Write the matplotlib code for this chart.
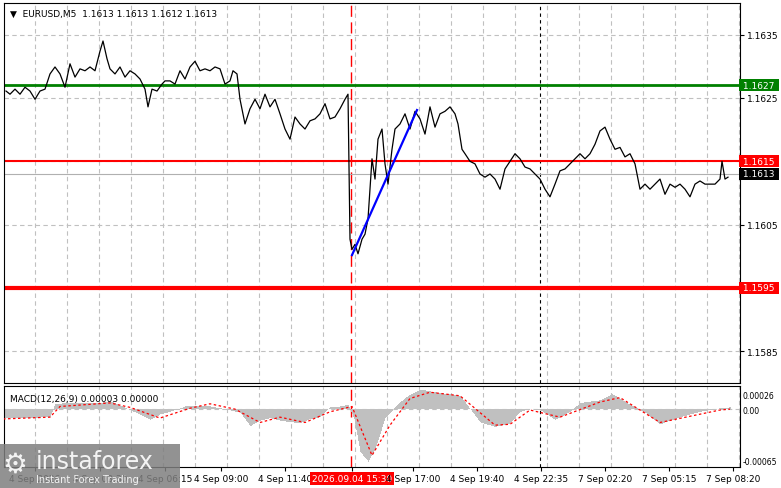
import matplotlib
matplotlib.use("Agg")
import matplotlib.pyplot as plt
from matplotlib.patches import Rectangle

W, H = 781, 489
bar_x = [6,10,15,20,25,30,35,40,45,50,55,60,65,70,75,80,85,90,95,100,103,107,110,115,120,125,130,135,140,145,148,152,157,162,165,170,175,180,185,190,195,200,205,210,215,220,225,230,233,237,240,245,250,255,260,265,270,275,280,285,290,295,300,305,310,315,320,325,330,335,340,345,348,350,352,355,358,362,365,368,372,375,378,382,385,388,392,395,400,405,410,415,420,425,430,435,440,445,450,455,458,462,465,470,475,480,485,490,495,500,505,510,515,520,525,530,535,540,545,550,555,560,565,570,575,580,585,590,595,600,605,610,615,620,625,630,635,640,645,650,655,660,665,670,675,680,685,690,695,700,705,710,715,720,722,725,728]
close = [1.16261,1.16256,1.16264,1.16256,1.16267,1.16261,1.16248,1.16261,1.16264,1.16288,1.16299,1.16288,1.16267,1.16304,1.16283,1.16296,1.16293,1.16299,1.16293,1.16324,1.16340,1.16312,1.16296,1.16288,1.16299,1.16283,1.16293,1.16288,1.16280,1.16264,1.16236,1.16264,1.16261,1.16272,1.16277,1.16277,1.16272,1.16293,1.16280,1.16299,1.16308,1.16293,1.16296,1.16293,1.16299,1.16296,1.16272,1.16277,1.16293,1.16288,1.16248,1.16209,1.16233,1.16248,1.16233,1.16256,1.16236,1.16248,1.16225,1.16201,1.16185,1.16220,1.16209,1.16201,1.16214,1.16217,1.16225,1.16241,1.16217,1.16220,1.16233,1.16248,1.16256,1.16027,1.16011,1.16019,1.16004,1.16027,1.16035,1.16059,1.16154,1.16122,1.16185,1.16201,1.16146,1.16114,1.16169,1.16201,1.16209,1.16225,1.16201,1.16229,1.16217,1.16193,1.16236,1.16204,1.16225,1.16229,1.16236,1.16225,1.16209,1.16169,1.16162,1.16150,1.16146,1.16130,1.16125,1.16130,1.16122,1.16106,1.16138,1.16150,1.16162,1.16154,1.16141,1.16138,1.16130,1.16122,1.16106,1.16094,1.16114,1.16135,1.16138,1.16146,1.16154,1.16162,1.16154,1.16162,1.16177,1.16198,1.16204,1.16185,1.16169,1.16172,1.16157,1.16162,1.16146,1.16106,1.16114,1.16106,1.16114,1.16122,1.16098,1.16114,1.16109,1.16114,1.16106,1.16094,1.16114,1.16119,1.16114,1.16114,1.16114,1.16122,1.16150,1.16122,1.16125]

blue_x = [352, 417]
blue_y = [1.16002, 1.16231]

levels = {"green": 1.1627, "red_top": 1.1615, "red_bot": 1.1595, "last": 1.1613}
price_ticks = [1.1635, 1.1625, 1.1605, 1.1585]

hist_x = [3,25,50,55,75,100,110,130,150,160,170,185,200,210,220,240,250,260,270,280,300,310,320,330,340,348,354,360,368,375,385,395,405,420,435,460,470,480,495,510,520,530,540,555,570,580,600,612,630,645,660,680,700,720,730]
hist_v = [-0.00010,-0.00010,-0.00009,0.00006,0.00007,0.00007,0.00009,-0.00001,-0.00012,-0.00006,-0.00003,0.00003,0.00004,0.00003,0.00001,-0.00004,-0.00019,-0.00013,-0.00010,-0.00013,-0.00016,-0.00011,-0.00009,0.00002,0.00003,0.00005,-0.00011,-0.00048,-0.00059,-0.00045,-0.00010,0.00002,0.00013,0.00022,0.00019,0.00015,0.0,-0.00015,-0.00020,-0.00016,-0.00003,0.0,-0.00001,-0.00012,-0.00003,0.00007,0.00010,0.00017,0.00005,-0.00004,-0.00017,-0.00009,-0.00003,0.00001,0.00002]
sig_x = [3,50,60,110,130,160,190,210,235,260,280,305,330,352,372,390,410,430,460,495,510,530,560,600,620,660,720,730]
sig_v = [-0.00011,-0.00009,0.00003,0.00007,0.00002,-0.00010,0.00001,0.00006,0.0,-0.00015,-0.00009,-0.00015,-0.00003,0.00003,-0.00052,-0.00018,0.00012,0.00019,0.00015,-0.00018,-0.00017,-0.00001,-0.00009,0.00008,0.00013,-0.00015,-0.00001,0.0]
macd_labels = ["0.00026", "0.00", "-0.00065"]

xtick_pos = [35,100,165,221,285,352,413,477,541,605,669,733]
xtick_lab = ["4 Sep 2026","4 Sep 03:30","4 Sep 06:15","4 Sep 09:00","4 Sep 11:40","2026.09.04 15:30",
             "4 Sep 17:00","4 Sep 19:40","4 Sep 22:35","7 Sep 02:20","7 Sep 05:15","7 Sep 08:20"]

import numpy as np
fig = plt.figure(figsize=(W/100, H/100), dpi=100)
plt.rcParams['font.family'] = ['DejaVu Sans']
fs = 6.5

def frac(x0, y0, x1, y1):
    return [x0/W, 1-y1/H, (x1-x0)/W, (y1-y0)/H]

ax = fig.add_axes(frac(4, 4, 740, 384))
ax.set_xlim(4, 740)
ax.set_ylim(1.15800, 1.16400)
grid_x = np.arange(35, 740, 32)
for gx in grid_x:
    ax.axvline(gx, color="#c0c0c0", ls=(0, (4, 3)), lw=0.8, zorder=0)
for p in price_ticks + [1.1615, 1.1595]:
    ax.axhline(p, color="#c0c0c0", ls=(0, (4, 3)), lw=0.8, zorder=0)
ax.axvline(351, color="#ff0000", ls=(0, (8, 4)), lw=1, zorder=1)
ax.axvline(540, color="black", ls=(0, (3, 3)), lw=0.8, zorder=1)
ax.axhline(levels["last"], color="#b0b0b0", lw=0.8, zorder=1)
ax.axhline(levels["green"], color="#008000", lw=2, zorder=2)
ax.axhline(levels["red_top"], color="#ff0000", lw=1.5, zorder=2)
ax.axhline(levels["red_bot"], color="#ff0000", lw=3, zorder=2)
ax.plot(bar_x, close, color="black", lw=0.9, zorder=3)
ax.plot(blue_x, blue_y, color="#0000ff", lw=1.6, zorder=4)
ax.set_xticks([])
ax.yaxis.tick_right()
ax.set_yticks(price_ticks)
ax.set_yticklabels([f"{p:.4f}" for p in price_ticks], fontsize=fs)
ax.tick_params(axis="y", length=3, pad=2)
for s in ax.spines.values():
    s.set_linewidth(0.8)
def tag(y, txt, bg, fg="white"):
    ax.text(1.0, y, " " + txt + " ", transform=ax.get_yaxis_transform(), fontsize=fs, color=fg,
            va="center", ha="left", bbox=dict(boxstyle="square,pad=0.15", fc=bg, ec="none"), zorder=10)
tag(levels["green"], "1.1627", "#008000")
tag(levels["red_top"], "1.1615", "#ff0000")
tag(levels["last"], "1.1613", "black")
tag(levels["red_bot"], "1.1595", "#ff0000")
ax.text(0.008, 0.985, "▼  EURUSD,M5  1.1613 1.1613 1.1612 1.1613", transform=ax.transAxes,
        fontsize=fs, va="top", ha="left")

m = fig.add_axes(frac(4, 387, 740, 468))
m.set_xlim(4, 740)
m.set_ylim(-0.00065, 0.00026)
for gx in grid_x:
    m.axvline(gx, color="#c0c0c0", ls=(0, (4, 3)), lw=0.8, zorder=0)
m.axhline(0, color="#c0c0c0", ls=(0, (4, 3)), lw=0.8, zorder=0)
m.axvline(351, color="#ff0000", ls=(0, (8, 4)), lw=1, zorder=1)
m.axvline(540, color="black", ls=(0, (3, 3)), lw=0.8, zorder=1)
hx = np.arange(3, 731, 1)
hv = np.interp(hx, hist_x, hist_v)
m.bar(hx, hv, width=1.0, color="#c0c0c0", zorder=2)
m.plot(sig_x, sig_v, color="#ff0000", ls=(0, (2, 2)), lw=0.9, zorder=3)
m.set_xticks(xtick_pos)
m.set_xticklabels(xtick_lab, fontsize=fs)
m.tick_params(axis="x", length=3, pad=2)
for lbl in m.get_xticklabels():
    if lbl.get_text().startswith("2026"):
        lbl.set_color("white")
        lbl.set_zorder(20)
        lbl.set_bbox(dict(boxstyle="square,pad=0.2", fc="#ff0000", ec="none"))
m.yaxis.tick_right()
m.set_yticks([0.00017, 0.0, -0.00058])
m.set_yticklabels(macd_labels, fontsize=5.6)
m.tick_params(axis="y", length=0, pad=2)
for s in m.spines.values():
    s.set_linewidth(0.8)
m.text(0.008, 0.9, "MACD(12,26,9) 0.00003 0.00000", transform=m.transAxes, fontsize=fs, va="top")

# watermark
wm = fig.add_axes(frac(0, 445, 180, 489))
wm.set_xlim(0, 1); wm.set_ylim(0, 1); wm.axis("off")
wm.add_patch(Rectangle((0, 0), 1, 1, fc="#7f7f7f", alpha=0.85, ec="none"))
wm.text(0.2, 0.62, "instaforex", color="white", fontsize=17, va="center", ha="left", alpha=0.9)
wm.text(0.2, 0.2, "Instant Forex Trading", color="white", fontsize=7, va="center", ha="left", alpha=0.9)
wm.text(0.08, 0.55, "⚙", color="white", fontsize=20, va="center", ha="center", alpha=0.9)

fig.savefig("out.png", dpi=100)
